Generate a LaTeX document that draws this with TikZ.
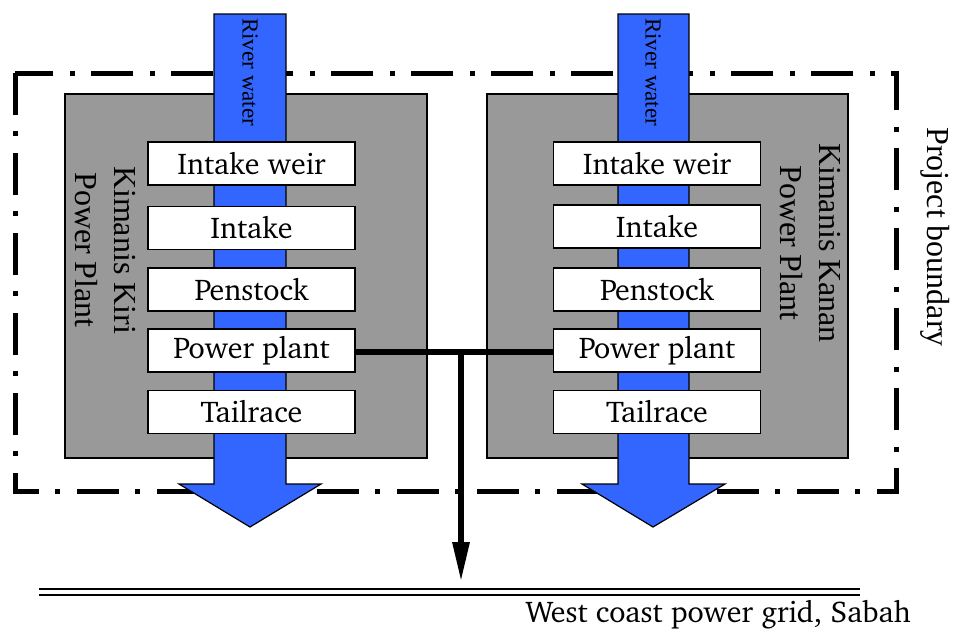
\documentclass[tikz,border=0pt]{standalone}
\usepackage[T1]{fontenc}
\usepackage{fontspec}
\usepackage{tikz}
\usetikzlibrary{arrows.meta}
\newfontfamily\timesfont{Liberation Serif}
\newcommand{\charterfont}{\fontencoding{T1}\fontfamily{bch}\selectfont}
\definecolor{riverblue}{RGB}{51,102,255}
\definecolor{plantgray}{RGB}{153,153,153}

\begin{document}
\begin{tikzpicture}[x=1pt, y=-1pt,
  stage/.style={draw=black, line width=1.5pt, fill=white, minimum width=207pt,
    minimum height=43pt, inner sep=0pt, font=\charterfont\fontsize{30}{32}\selectfont},
  plant/.style={draw=black, line width=1.5pt, fill=plantgray},
  river/.style={draw=black, line width=1.2pt, fill=riverblue},
  riverlabel/.style={rotate=-90, anchor=west, inner sep=0pt, font=\timesfont\fontsize{23}{25}\selectfont},
  sidelabel/.style={rotate=-90, align=center, inner sep=0pt, font=\timesfont\fontsize{32}{39}\selectfont},
  boundary/.style={line width=5pt, dash pattern=on 42pt off 16pt on 5pt off 17pt},
  powerline/.style={line width=6pt}]
\useasboundingbox (0,0) rectangle (955,630);

\draw[boundary] (15,73) rectangle (896,491);

\draw[plant] (65,94) rectangle (427,458);
\draw[plant] (487,94) rectangle (848,458);

\draw[river] (214,14) -- (286,14) -- (286,484) -- (321,484) -- (250,527)
  -- (179,484) -- (214,484) -- cycle;
\draw[river] (618,14) -- (689,14) -- (689,484) -- (725,484) -- (653,527)
  -- (582,484) -- (618,484) -- cycle;

\node[riverlabel] (kiririver) at (250,18) {River water};
\node[riverlabel] (kananriver) at (653,18) {River water};

\node[stage] (kiriweir) at (251.5,163.5) {Intake weir};
\node[stage] (kiriintake) at (251.5,228) {Intake};
\node[stage] (kiripenstock) at (251.5,289.5) {Penstock};
\node[stage] (kiripp) at (251.5,350.5) {Power plant};
\node[stage] (kiritail) at (251.5,412) {Tailrace};

\node[stage] (kananweir) at (657,163.5) {Intake weir};
\node[stage] (kananintake) at (657,226.5) {Intake};
\node[stage] (kananpenstock) at (657,289.5) {Penstock};
\node[stage] (kananpp) at (657,350.5) {Power plant};
\node[stage] (kanantail) at (657,412) {Tailrace};

\node[sidelabel] (kirilabel) at (105,250) {Kimanis Kiri\\Power Plant};
\node[sidelabel] (kananlabel) at (810,243) {Kimanis Kanan\\Power Plant};
\node[sidelabel] (boundarylabel) at (935,237) {Project boundary};

\coordinate (junction) at (461,352);
\coordinate (gridin) at (461,582);
\coordinate (gridwest) at (39,592);
\coordinate (grideast) at (860,592);

\draw[powerline] (kiripp.east |- junction) -- (kananpp.west |- junction);
\draw[powerline, -{Triangle[length=40pt, width=16pt]}] (junction) -- (gridin);
\draw[line width=2pt, double distance=4pt] (gridwest) -- (grideast);

\node[anchor=base east, inner sep=0pt, font=\charterfont\fontsize{30}{32}\selectfont] (gridlabel)
  at (911,622) {West coast power grid, Sabah};

\end{tikzpicture}
\end{document}
